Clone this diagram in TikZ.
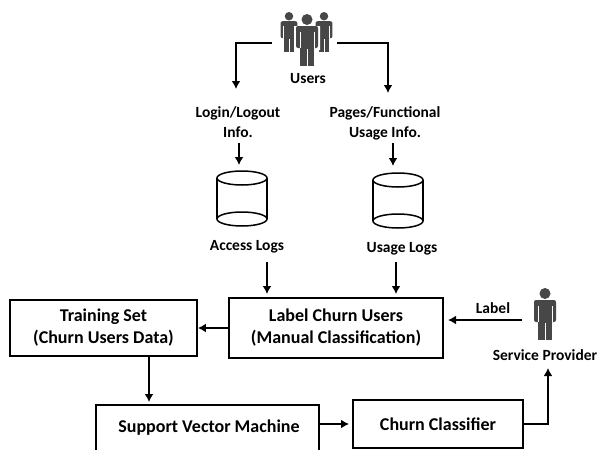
\documentclass[tikz,border=0pt]{standalone}
\usepackage{fontspec}
\setmainfont{Carlito}
\usetikzlibrary{positioning, arrows.meta}

\begin{document}
\begin{tikzpicture}[
    x=1pt, y=-1pt,
    % GLOBAL CFG
    font=\bfseries\fontsize{15.5}{18}\selectfont,
    >={Latex[length=8pt,width=9pt]},
    % Styles
    box/.style={% For the main boxes
        rectangle,
        draw,
        line width=1.8pt,
        align=center,
        inner sep=0pt,
        font=\bfseries\fontsize{18}{22}\selectfont,
        },
    twoline/.style={% Pushes the first line down
        execute at begin node={\rule{0pt}{#1}},
        },
    caption/.style={% For the small labels
        align=center,
        inner sep=0pt,
        text height=13pt,
        text depth=2pt,
        },
    anchorbox/.style={% Invisible place holder for the icons
        rectangle,
        inner sep=0pt,
        },
    flow/.style={% Arrows
        ->,
        line width=1.6pt,
        },
    pics/person/.style={code={% Head at the origin top, feet at 52
        \fill [white] (-13,12) rectangle (13,36) (-9,34) rectangle (9,54);
        \fill [white] (0,5.5) circle (7);
        \fill [personfill] (0,5.5) circle (5.5);
        \fill [personfill, rounded corners=2pt] (-11,12) rectangle (11,34);
        \fill [personfill] (-7,30) rectangle (7,52);
        \draw [white, line width=.5pt] (-7,18) -- (-7,34) (7,18) -- (7,34) (0,35) -- (0,52);
        }},
    pics/logdb/.style={code={% Two ellipses and the walls
        \draw [line width=1.5pt] (-25,0) -- (-25,41) (25,0) -- (25,41);
        \draw [line width=1.5pt] (0,0) ellipse [x radius=25, y radius=7];
        \draw [line width=1.5pt] (0,41) ellipse [x radius=25, y radius=7];
        }},
    ]
\definecolor{personfill}{HTML}{474747}

\useasboundingbox (0,0) rectangle (598,450);
\clip (0,0) rectangle (598,450);

    % Draw the icons
    \pic at (289,12) [scale=.77] {person};
    \pic at (324,12) [scale=.77] {person};
    \pic at (307,14) {person};
    \pic at (545,288) {person};
    \pic at (242,178) {logdb};
    \pic at (398,180) {logdb};

    % Draw place holders named as basis
    \node [anchorbox, minimum width=65pt, minimum height=10pt] (users) at (304.5,43) {};
    \node [anchorbox, minimum width=24pt, minimum height=52pt] (provider) at (545,314) {};

    % Draw labels
    \node [caption] (userstxt) at (308,78) {Users};
    \node [caption] (login) at (238,112) {Login/Logout};
    \node [caption] (logininfo) at (238,132) {Info.};
    \node [caption] (pages) at (385,112) {Pages/Functional};
    \node [caption] (pagesinfo) at (385,132) {Usage Info.};
    \node [caption] (access) at (247,245) {Access Logs};
    \node [caption] (usage) at (402,247) {Usage Logs};
    \node [caption] (labeltxt) at (493,308) {Label};
    \node [caption] (service) at (545,355) {Service Provider};

    % Draw the boxes
    \node [box, twoline=17pt, minimum width=187pt, minimum height=56pt] (train) at (103.5,328)
        {Training Set\\(Churn Users Data)};
    \node [box, twoline=15pt, minimum width=214pt, minimum height=60pt] (churn) at (336,328)
        {Label Churn Users\\(Manual Classification)};
    \node [box, minimum width=223pt, minimum height=50pt, anchor=north west] (svm) at (95,404) {};
    \node at (209,428) (svmtxt) {\bfseries\fontsize{18}{22}\selectfont Support Vector Machine};
    \node [box, minimum width=170pt, minimum height=48pt] (clf) at (438,424) {Churn Classifier};

    % Free ends of the connectors
    \coordinate (e1) at (236,89);
    \coordinate (e2) at (388,93);
    \coordinate (a1) at (239,143);
    \coordinate (a2) at (239,165);
    \coordinate (b1) at (393,143);
    \coordinate (b2) at (393,166);
    \coordinate (c1) at (267,262);
    \coordinate (c2) at (267,294);
    \coordinate (d1) at (396,262);
    \coordinate (d2) at (396,294);
    \coordinate (s1) at (149,356);
    \coordinate (s2) at (149,402);
    \coordinate (v1) at (319,424);
    \coordinate (v2) at (349,424);
    \coordinate (l1) at (522,320);
    \coordinate (l2) at (448,320);
    \coordinate (p2) at (548,368);

    % Connect all
    \draw [flow] (users.west) -| (e1);
    \draw [flow] (users.east) -| (e2);
    \draw [flow] (a1) -- (a2);
    \draw [flow] (b1) -- (b2);
    \draw [flow] (c1) -- (c2);
    \draw [flow] (d1) -- (d2);
    \draw [flow] (churn.west) -- (train.east);
    \draw [flow] (s1) -- (s2);
    \draw [flow] (v1) -- (v2);
    \draw [flow] (l1) -- (l2);
    \draw [flow] (clf.east) -| (p2);

\end{tikzpicture}
\end{document}
